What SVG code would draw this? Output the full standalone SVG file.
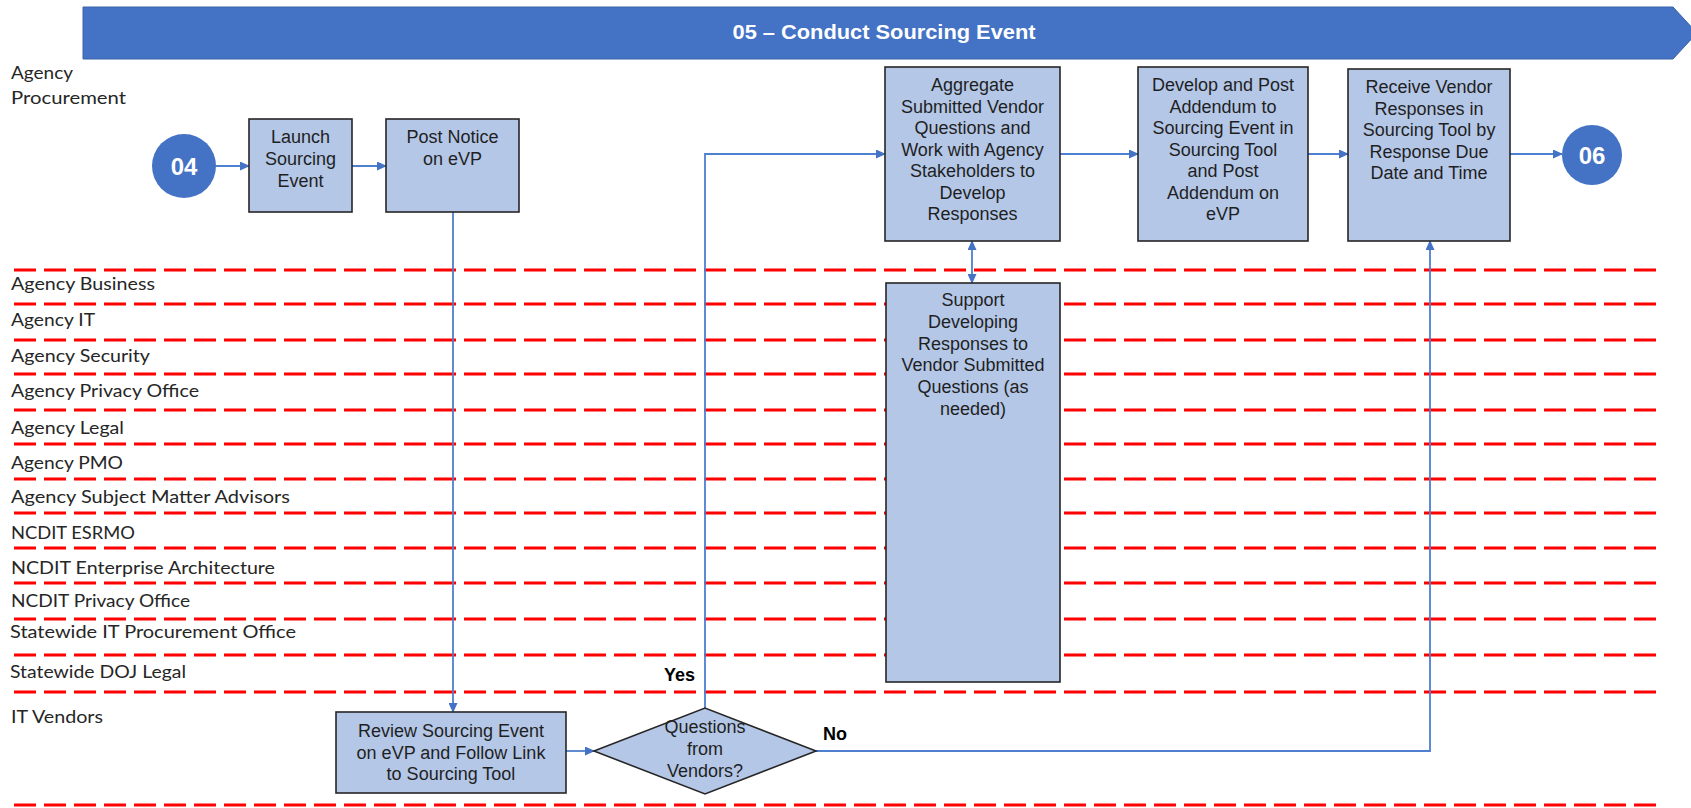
<svg xmlns="http://www.w3.org/2000/svg" width="1691" height="808" viewBox="0 0 1691 808">
<defs>
<style>
.lane{stroke:#FF0000;stroke-width:3;stroke-dasharray:22 8;fill:none}
.lbl{font-family:Lato,"Open Sans",sans-serif;font-size:18px;fill:#262626}
.box{fill:#B4C7E7;stroke:#262626;stroke-width:1.6}
.bt{font-family:"Liberation Sans",Arial,sans-serif;font-size:18px;fill:#1f1f1f;text-anchor:middle}
.conn{fill:none;stroke:#4F7FD0;stroke-width:1.8}
.circ{fill:#4472C4}
.ct{font-family:"Liberation Sans",Arial,sans-serif;font-size:24px;font-weight:bold;fill:#FFFFFF;text-anchor:middle}
.yn{font-family:"Liberation Sans",Arial,sans-serif;font-size:18px;font-weight:bold;fill:#000000}
</style>
<marker id="ah" markerUnits="userSpaceOnUse" markerWidth="10" markerHeight="9" refX="9" refY="4.5" orient="auto">
<path d="M0,0 L10,4.5 L0,9 z" fill="#4472C4"/>
</marker>
<marker id="ahs" markerUnits="userSpaceOnUse" markerWidth="10" markerHeight="9" refX="9" refY="4.5" orient="auto-start-reverse">
<path d="M0,0 L10,4.5 L0,9 z" fill="#4472C4"/>
</marker>
</defs>
<rect width="1691" height="808" fill="#FFFFFF"/>

<g id="banner">
<polygon points="83,7 1673,7 1697,33 1673,59 83,59" fill="#4472C4" stroke="#3A62A8" stroke-width="1"/>
<text x="884" y="39" font-family="'Liberation Sans',Arial,sans-serif" font-size="20" font-weight="bold" fill="#FFFFFF" text-anchor="middle" textLength="303" lengthAdjust="spacingAndGlyphs">05 – Conduct Sourcing Event</text>
</g>

<g id="lanes">
<line class="lane" x1="14" y1="270" x2="1656" y2="270"/>
<line class="lane" x1="14" y1="304" x2="1656" y2="304"/>
<line class="lane" x1="14" y1="340" x2="1656" y2="340"/>
<line class="lane" x1="14" y1="374" x2="1656" y2="374"/>
<line class="lane" x1="14" y1="410" x2="1656" y2="410"/>
<line class="lane" x1="14" y1="444" x2="1656" y2="444"/>
<line class="lane" x1="14" y1="479" x2="1656" y2="479"/>
<line class="lane" x1="14" y1="513" x2="1656" y2="513"/>
<line class="lane" x1="14" y1="548" x2="1656" y2="548"/>
<line class="lane" x1="14" y1="583" x2="1656" y2="583"/>
<line class="lane" x1="14" y1="619" x2="1656" y2="619"/>
<line class="lane" x1="14" y1="655" x2="1656" y2="655"/>
<line class="lane" x1="14" y1="692" x2="1656" y2="692"/>
<line class="lane" x1="14" y1="805" x2="1656" y2="805"/>
</g>

<g id="lane-labels">
<text class="lbl" x="11" y="79" textLength="62" lengthAdjust="spacingAndGlyphs">Agency</text>
<text class="lbl" x="11" y="104" textLength="115" lengthAdjust="spacingAndGlyphs">Procurement</text>
<text class="lbl" x="11" y="290" textLength="144" lengthAdjust="spacingAndGlyphs">Agency Business</text>
<text class="lbl" x="11" y="326" textLength="84" lengthAdjust="spacingAndGlyphs">Agency IT</text>
<text class="lbl" x="11" y="362" textLength="139" lengthAdjust="spacingAndGlyphs">Agency Security</text>
<text class="lbl" x="11" y="397" textLength="188" lengthAdjust="spacingAndGlyphs">Agency Privacy Office</text>
<text class="lbl" x="11" y="434" textLength="113" lengthAdjust="spacingAndGlyphs">Agency Legal</text>
<text class="lbl" x="11" y="469" textLength="112" lengthAdjust="spacingAndGlyphs">Agency PMO</text>
<text class="lbl" x="11" y="503" textLength="279" lengthAdjust="spacingAndGlyphs">Agency Subject Matter Advisors</text>
<text class="lbl" x="11" y="539" textLength="124" lengthAdjust="spacingAndGlyphs">NCDIT ESRMO</text>
<text class="lbl" x="11" y="574" textLength="264" lengthAdjust="spacingAndGlyphs">NCDIT Enterprise Architecture</text>
<text class="lbl" x="11" y="607" textLength="179" lengthAdjust="spacingAndGlyphs">NCDIT Privacy Office</text>
<text class="lbl" x="10" y="638" textLength="286" lengthAdjust="spacingAndGlyphs">Statewide IT Procurement Office</text>
<text class="lbl" x="10" y="678" textLength="176" lengthAdjust="spacingAndGlyphs">Statewide DOJ Legal</text>
<text class="lbl" x="11" y="723" textLength="92" lengthAdjust="spacingAndGlyphs">IT Vendors</text>
</g>

<g id="connectors">
<path class="conn" d="M216,166 H249" marker-end="url(#ah)"/>
<path class="conn" d="M352,166 H386" marker-end="url(#ah)"/>
<path class="conn" d="M453,212 V712" marker-end="url(#ah)"/>
<path class="conn" d="M566,751 H594" marker-end="url(#ah)"/>
<path class="conn" d="M705,708 V154 H885" marker-end="url(#ah)"/>
<path class="conn" d="M1060,154 H1138" marker-end="url(#ah)"/>
<path class="conn" d="M1308,154 H1348" marker-end="url(#ah)"/>
<path class="conn" d="M1510,154 H1562" marker-end="url(#ah)"/>
<path class="conn" d="M972,241 V283" marker-start="url(#ahs)" marker-end="url(#ah)"/>
<path class="conn" d="M816,751 H1430 V241" marker-end="url(#ah)"/>
</g>

<g id="n04">
<circle class="circ" cx="184" cy="166" r="32"/>
<text class="ct" x="184" y="175">04</text>
</g>

<g id="launch">
<rect class="box" x="249" y="119" width="103" height="93"/>
<text class="bt" x="300.5" y="143">Launch</text>
<text class="bt" x="300.5" y="165">Sourcing</text>
<text class="bt" x="300.5" y="187">Event</text>
</g>

<g id="post-notice">
<rect class="box" x="386" y="119" width="133" height="93"/>
<text class="bt" x="452.5" y="143">Post Notice</text>
<text class="bt" x="452.5" y="165">on eVP</text>
</g>

<g id="aggregate">
<rect class="box" x="885" y="67" width="175" height="174"/>
<text class="bt" x="972.5" y="91">Aggregate</text>
<text class="bt" x="972.5" y="112.5">Submitted Vendor</text>
<text class="bt" x="972.5" y="134">Questions and</text>
<text class="bt" x="972.5" y="155.5">Work with Agency</text>
<text class="bt" x="972.5" y="177">Stakeholders to</text>
<text class="bt" x="972.5" y="198.5">Develop</text>
<text class="bt" x="972.5" y="220">Responses</text>
</g>

<g id="develop">
<rect class="box" x="1138" y="67" width="170" height="174"/>
<text class="bt" x="1223" y="91">Develop and Post</text>
<text class="bt" x="1223" y="112.5">Addendum to</text>
<text class="bt" x="1223" y="134">Sourcing Event in</text>
<text class="bt" x="1223" y="155.5">Sourcing Tool</text>
<text class="bt" x="1223" y="177">and Post</text>
<text class="bt" x="1223" y="198.5">Addendum on</text>
<text class="bt" x="1223" y="220">eVP</text>
</g>

<g id="receive">
<rect class="box" x="1348" y="69" width="162" height="172"/>
<text class="bt" x="1429" y="93">Receive Vendor</text>
<text class="bt" x="1429" y="114.6">Responses in</text>
<text class="bt" x="1429" y="136.2">Sourcing Tool by</text>
<text class="bt" x="1429" y="157.8">Response Due</text>
<text class="bt" x="1429" y="179.4">Date and Time</text>
</g>

<g id="n06">
<circle class="circ" cx="1592" cy="155" r="30"/>
<text class="ct" x="1592" y="164">06</text>
</g>

<g id="support">
<rect class="box" x="886" y="283" width="174" height="399"/>
<text class="bt" x="973" y="306">Support</text>
<text class="bt" x="973" y="327.8">Developing</text>
<text class="bt" x="973" y="349.6">Responses to</text>
<text class="bt" x="973" y="371.4">Vendor Submitted</text>
<text class="bt" x="973" y="393.2">Questions (as</text>
<text class="bt" x="973" y="415">needed)</text>
</g>

<g id="review">
<rect class="box" x="336" y="712" width="230" height="81"/>
<text class="bt" x="451" y="737">Review Sourcing Event</text>
<text class="bt" x="451" y="758.5">on eVP and Follow Link</text>
<text class="bt" x="451" y="780">to Sourcing Tool</text>
</g>

<g id="decision">
<polygon class="box" points="594,751 705,708 816,751 705,794"/>
<text class="bt" x="705" y="733">Questions</text>
<text class="bt" x="705" y="755">from</text>
<text class="bt" x="705" y="777">Vendors?</text>
</g>

<g id="edge-labels">
<text class="yn" x="664" y="681">Yes</text>
<text class="yn" x="823" y="740">No</text>
</g>
</svg>
